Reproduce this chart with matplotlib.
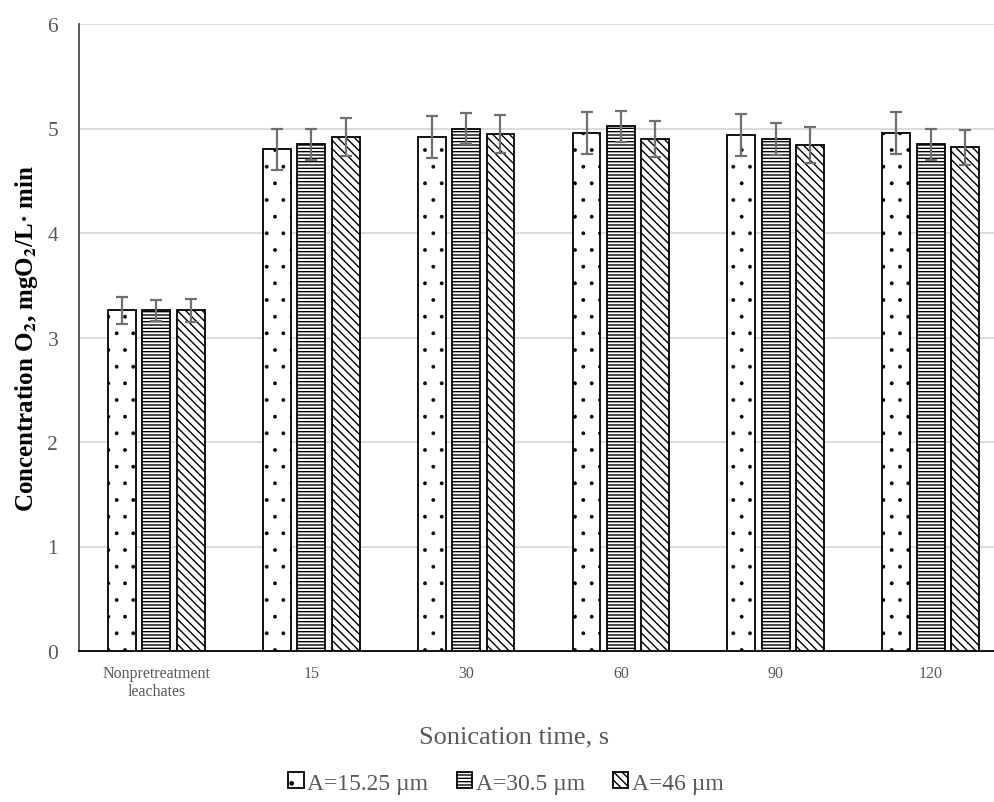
import matplotlib
matplotlib.use('Agg')
import matplotlib.pyplot as plt
import numpy as np

# data
categories = ['Nonpretreatment\nleachates', '15', '30', '60', '90', '120']
series_names = ['A=15.25 µm', 'A=30.5 µm', 'A=46 µm']
vals_a15 = [3.26, 4.80, 4.92, 4.96, 4.94, 4.96]
vals_a30 = [3.26, 4.85, 5.00, 5.02, 4.90, 4.85]
vals_a46 = [3.26, 4.92, 4.95, 4.90, 4.84, 4.82]
err_a15 = [0.13, 0.20, 0.20, 0.20, 0.20, 0.20]
err_a30 = [0.10, 0.15, 0.15, 0.15, 0.15, 0.15]
err_a46 = [0.11, 0.18, 0.18, 0.17, 0.17, 0.17]

plt.rcParams['font.family'] = ['Liberation Serif', 'DejaVu Serif']
plt.rcParams['mathtext.fontset'] = 'stix'
plt.rcParams['hatch.linewidth'] = 1.0

fig = plt.figure(figsize=(9.95, 8.03), dpi=100)
ax = fig.add_axes([79 / 995, 151 / 803, 929 / 995, 627 / 803])

x = np.arange(len(categories))
width = 0.18
step = 0.222
hatches = ['.', '-----', '\\\\\\\\']
all_vals = [vals_a15, vals_a30, vals_a46]
all_errs = [err_a15, err_a30, err_a46]

for i in range(3):
    bars = ax.bar(x + (i - 1) * step, all_vals[i], width,
                  color='white', edgecolor='black', linewidth=1.3,
                  hatch=hatches[i], label=series_names[i], zorder=3,
                  yerr=all_errs[i],
                  error_kw=dict(ecolor='#707070', elinewidth=1.6, capsize=4,
                                capthick=1.6, zorder=4))
    if i == 0:
        # smaller dots for the dotted pattern
        for b in bars:
            if hasattr(b, 'set_hatch_linewidth'):
                b.set_hatch_linewidth(0.3)

ax.set_xlim(-0.5, len(categories) - 0.5)
ax.set_ylim(0, 6)
ax.set_yticks(range(0, 7))
ax.set_xticks(x)
ax.set_xticklabels(categories, fontsize=11.5, color='#595959', linespacing=1.2)
ax.tick_params(axis='y', length=0, pad=15, labelsize=15.5, labelcolor='#595959')
ax.tick_params(axis='x', length=0, pad=10)
ax.grid(axis='y', color='#d9d9d9', linewidth=1.3, zorder=0)
ax.set_axisbelow(True)

for s in ['top', 'right']:
    ax.spines[s].set_visible(False)
ax.spines['left'].set_color('#404040')
ax.spines['left'].set_linewidth(1.2)
ax.spines['bottom'].set_color('black')
ax.spines['bottom'].set_linewidth(1.3)

ax.set_ylabel(r'Concentration O$_{\mathbf{2}}$, mgO$_{\mathbf{2}}$/L· min',
              fontsize=18, fontweight='bold', color='black', labelpad=5)

fig.text(514 / 995, (803 - 743) / 803, 'Sonication time, s', fontsize=19,
         color='#595959', ha='center', va='baseline')

leg = fig.legend(loc='center', bbox_to_anchor=(506 / 995, 19 / 803), ncol=3, frameon=False,
                 fontsize=17, handlelength=0.65, handleheight=0.65, handletextpad=0.15,
                 columnspacing=1.2, borderpad=0)
for t in leg.get_texts():
    t.set_color('#595959')

fig.savefig('out.png', dpi=100)
